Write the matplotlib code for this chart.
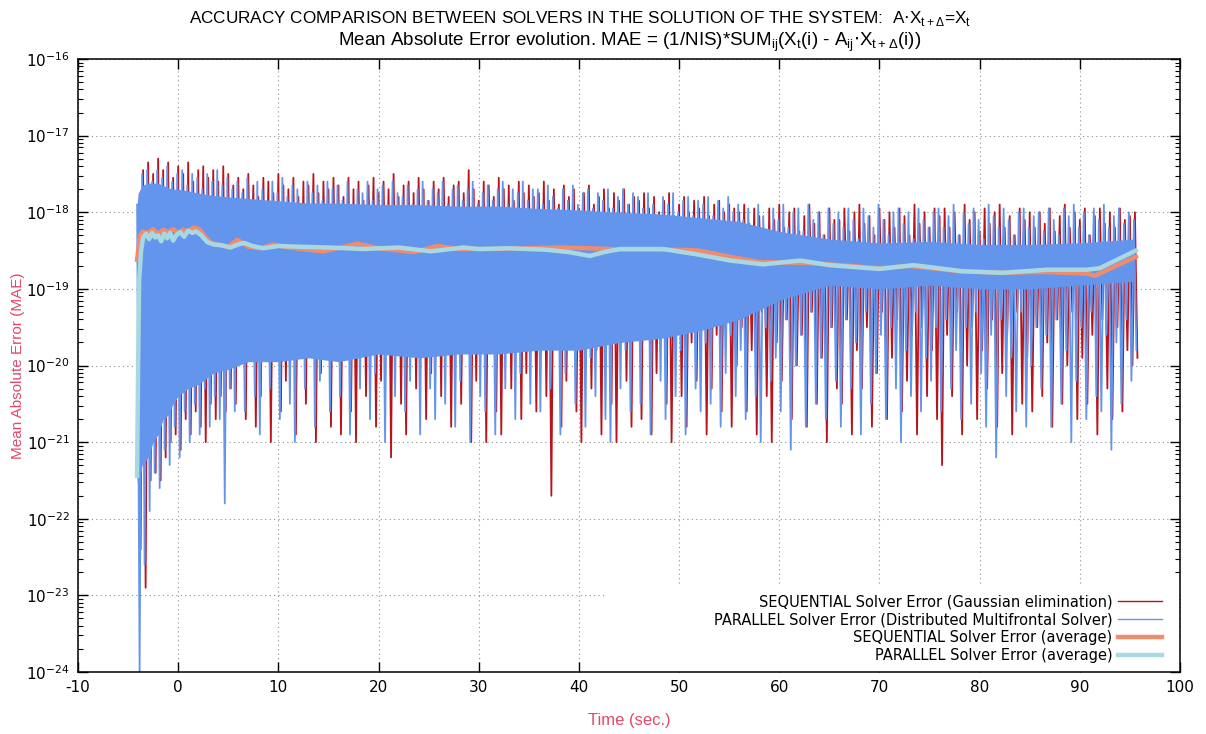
import numpy as np
import matplotlib.pyplot as plt
from matplotlib.lines import Line2D
from matplotlib.ticker import LogLocator, NullLocator, NullFormatter
from matplotlib.patches import Rectangle

plt.rcParams['axes.unicode_minus'] = False

# raw error samples, log10(MAE); peaks and troughs alternate every 0.25 s
# PARALLEL (Distributed Multifrontal Solver), peaks from t=-4.1, troughs from t=-3.85
par_hi = [
    -17.9, -17.5, -17.45, -17.6, -17.45, -17.55, -17.4, -17.6, -17.5, -17.45, -17.65, -17.5, -17.55, -17.7, -17.5, -17.6, -17.45, -17.65, -17.55, -17.7,
    -17.6, -17.75, -17.55, -17.85, -17.6, -17.7, -17.9, -17.6, -17.75, -17.55, -17.8, -17.65, -17.7, -17.9, -17.6, -17.75, -17.65, -17.85, -17.6, -17.7,
    -17.65, -17.85, -17.6, -17.9, -17.7, -17.75, -17.6, -17.85, -17.7, -17.65, -17.9, -17.6, -17.75, -17.8, -17.65, -17.9, -17.7, -17.6, -17.85, -17.7,
    -17.75, -17.6, -17.9, -17.7, -17.65, -17.85, -17.7, -17.6, -17.9, -17.75, -17.65, -17.85, -17.7, -17.6, -17.9, -17.7, -17.75, -17.6, -17.85, -17.7,
    -17.7, -17.9, -17.65, -17.8, -17.95, -17.7, -17.85, -17.65, -17.9, -17.75, -17.7, -17.95, -17.75, -17.85, -17.7, -17.95, -17.8, -17.7, -17.9, -17.75,
    -17.8, -17.95, -17.75, -17.9, -18.05, -17.8, -17.9, -17.75, -18.0, -17.85, -17.8, -18.05, -17.85, -17.9, -17.8, -18.05, -17.85, -17.95, -17.8, -18.0,
    -17.9, -18.1, -17.95, -18.2, -17.9, -18.05, -18.3, -17.95, -18.1, -17.9, -18.2, -18.0, -17.95, -18.25, -17.9, -18.1, -18.0, -18.3, -17.95, -18.15,
    -18.0, -18.2, -17.95, -18.1, -18.35, -17.95, -18.05, -18.2, -17.9, -18.1, -18.3, -18.0, -17.95, -18.15, -18.0, -18.35, -17.95, -18.1, -18.2, -18.0,
    -17.95, -18.2, -18.05, -17.9, -18.3, -18.0, -18.15, -17.95, -18.1, -18.35, -17.9, -18.05, -18.2, -17.95, -18.1, -18.3, -18.0, -17.95, -18.2, -18.05,
    -18.0, -18.25, -17.95, -18.1, -18.3, -17.95, -18.05, -17.9, -18.2, -18.0, -18.3, -17.95, -18.1, -17.9, -18.2, -18.05, -17.95, -18.15, -18.0, -18.1,
]
par_lo = [
    -24.0, -22.6, -21.9, -21.4, -21.6, -21.1, -21.3, -20.8, -21.2, -20.6, -21.0, -20.5, -20.9, -20.3, -20.8, -20.4, -20.7, -21.8, -20.3, -20.6,
    -19.5, -20.6, -19.2, -20.4, -20.9, -19.6, -20.3, -19.8, -20.7, -19.4, -20.5, -21.0, -19.7, -20.3, -19.3, -20.8, -20.2, -19.6, -20.6, -19.9,
    -20.4, -19.5, -20.9, -19.7, -20.3, -19.3, -20.7, -20.1, -19.6, -21.0, -19.8, -20.4, -19.4, -20.6, -20.2, -19.7, -20.9, -19.5, -20.3, -20.7,
    -19.6, -20.5, -19.3, -20.8, -20.2, -19.7, -21.0, -19.5, -20.4, -20.6, -19.4, -20.9, -19.8, -20.3, -19.5, -20.7, -20.1, -19.6, -20.5, -19.3,
    -20.6, -19.7, -20.3, -19.4, -20.9, -20.1, -19.6, -20.5, -19.3, -20.8, -19.9, -20.4, -19.5, -20.7, -21.0, -19.6, -20.3, -19.8, -20.6, -19.4,
    -20.5, -19.6, -20.9, -19.3, -20.2, -20.7, -19.5, -20.4, -19.8, -20.9, -19.4, -20.3, -20.6, -19.7, -20.5, -19.3, -20.8, -20.1, -19.6, -20.4,
    -19.8, -20.7, -19.3, -20.4, -21.0, -19.5, -20.2, -19.9, -20.6, -19.4, -21.1, -20.0, -19.6, -20.8, -19.3, -20.5, -19.9, -20.7, -19.5, -20.2,
    -20.8, -19.4, -20.3, -19.7, -20.9, -19.3, -20.5, -20.1, -19.6, -20.7, -19.5, -20.3, -21.0, -19.8, -20.4, -19.3, -20.6, -19.9, -20.2, -19.5,
    -20.6, -19.4, -20.3, -19.8, -20.7, -19.5, -20.5, -19.3, -20.1, -20.8, -19.6, -21.2, -19.4, -20.4, -19.9, -20.6, -19.3, -20.8, -20.0, -19.5,
    -20.3, -19.6, -20.8, -19.4, -20.5, -19.8, -21.0, -20.2, -19.5, -20.7, -19.3, -20.4, -20.6, -19.6, -21.1, -19.7, -20.5, -19.4, -20.2, -19.8,
]
# SEQUENTIAL (Gaussian elimination), peaks from t=-4.0, troughs from t=-3.75
seq_hi = [
    -18.6, -17.45, -17.35, -17.5, -17.3, -17.45, -17.35, -17.55, -17.4, -17.5, -17.35, -17.6, -17.45, -17.4, -17.55, -17.45, -17.6, -17.4, -17.5, -17.65,
    -17.55, -17.7, -17.5, -17.65, -17.8, -17.55, -17.6, -17.75, -17.5, -17.65, -17.7, -17.55, -17.8, -17.6, -17.65, -17.5, -17.75, -17.6, -17.7, -17.55,
    -17.65, -17.8, -17.55, -17.7, -17.6, -17.85, -17.65, -17.55, -17.75, -17.6, -17.7, -17.5, -17.8, -17.65, -17.6, -17.75, -17.55, -17.7, -17.85, -17.6,
    -17.7, -17.55, -17.8, -17.65, -17.6, -17.75, -17.45, -17.7, -17.85, -17.6, -17.65, -17.8, -17.55, -17.7, -17.65, -17.85, -17.6, -17.75, -17.65, -17.8,
    -17.75, -17.6, -17.85, -17.7, -17.9, -17.65, -17.8, -17.7, -17.95, -17.75, -17.65, -17.9, -17.8, -17.7, -17.95, -17.75, -17.85, -17.7, -17.9, -17.8,
    -17.85, -17.75, -17.95, -17.8, -18.0, -17.85, -17.75, -18.05, -17.9, -17.8, -18.0, -17.85, -17.95, -17.8, -18.05, -17.9, -17.85, -18.0, -17.9, -17.95,
    -18.0, -17.9, -18.15, -17.95, -18.05, -18.3, -17.95, -18.1, -17.9, -18.2, -18.0, -17.95, -18.25, -18.05, -17.9, -18.15, -18.0, -18.3, -17.95, -18.1,
    -18.1, -17.95, -18.25, -18.0, -17.9, -18.15, -18.05, -18.3, -17.95, -18.1, -18.0, -18.2, -17.95, -18.05, -18.3, -17.9, -18.15, -18.0, -18.2, -17.95,
    -18.05, -17.95, -18.2, -18.0, -18.3, -17.9, -18.1, -18.0, -18.25, -17.95, -18.15, -18.0, -17.9, -18.2, -18.05, -18.3, -17.95, -18.1, -18.0, -18.2,
    -18.0, -18.15, -17.95, -18.25, -18.05, -17.9, -18.2, -18.0, -18.1, -17.95, -18.3, -18.05, -17.95, -18.15, -18.0, -18.2, -17.95, -18.1, -18.05, -18.0,
]
seq_lo = [
    -22.4, -22.9, -21.5, -21.4, -21.5, -21.2, -21.0, -20.9, -21.1, -20.7, -20.9, -20.6, -20.8, -21.0, -20.5, -20.7, -20.4, -20.6, -20.3, -20.5,
    -19.6, -20.7, -19.3, -20.8, -20.4, -19.7, -21.0, -19.5, -20.6, -20.2, -19.4, -20.9, -19.8, -20.5, -19.3, -21.0, -20.1, -19.6, -20.8, -19.5,
    -20.9, -19.4, -20.6, -21.0, -19.7, -20.4, -19.3, -20.8, -20.2, -19.6, -21.2, -19.5, -20.5, -20.9, -19.8, -20.3, -19.4, -20.7, -20.1, -19.6,
    -20.4, -19.3, -20.8, -19.7, -20.5, -19.5, -21.0, -20.2, -19.6, -21.0, -19.4, -20.6, -20.9, -19.8, -20.3, -19.5, -20.7, -20.1, -19.3, -20.6,
    -19.7, -20.4, -21.7, -19.5, -20.8, -20.2, -19.4, -20.6, -21.0, -19.6, -20.3, -19.8, -20.9, -19.3, -20.5, -21.0, -19.7, -20.2, -20.8, -19.5,
    -20.7, -19.4, -20.9, -20.1, -19.6, -20.5, -21.0, -19.3, -20.4, -20.8, -19.7, -20.2, -19.5, -20.9, -20.3, -19.6, -20.6, -19.4, -20.8, -20.0,
    -19.5, -20.6, -19.8, -20.9, -19.3, -20.4, -21.0, -19.7, -20.2, -19.4, -20.7, -20.0, -19.6, -20.8, -19.3, -20.5, -19.9, -21.0, -19.5, -20.3,
    -20.5, -19.4, -20.9, -19.8, -20.3, -19.5, -20.8, -20.1, -19.3, -20.7, -19.9, -19.4, -20.6, -20.2, -19.6, -20.9, -19.5, -20.4, -19.8, -20.7,
    -21.3, -19.6, -20.4, -19.3, -20.9, -20.0, -19.5, -20.7, -19.8, -20.3, -19.4, -20.8, -20.1, -19.6, -20.9, -19.3, -20.5, -19.9, -20.6, -19.5,
    -20.4, -19.7, -20.8, -19.4, -20.5, -20.0, -19.3, -20.7, -19.9, -20.5, -19.6, -20.9, -19.4, -20.3, -20.7, -19.5, -20.6, -19.8, -20.0, -19.9,
]

# dense core of the parallel trace (where samples overlap into a solid band)
core_t = [-4.1, -4.0, -3.6, -3.0, -2.5, -2.0, -1.5, -1.0, -0.5, 0, 1, 2, 3.5, 5, 7, 10, 13, 16, 20, 24,
          28, 32, 36, 40, 44, 48, 52, 56, 60, 65, 70, 75, 80, 85, 90, 95.4]
core_top = [-17.9, -17.75, -17.65, -17.62, -17.62, -17.62, -17.65, -17.68, -17.7, -17.7, -17.72, -17.75, -17.78, -17.8, -17.82, -17.85, -17.88, -17.88, -17.9, -17.9,
            -17.92, -17.92, -17.95, -17.97, -18.0, -18.02, -18.07, -18.12, -18.25, -18.35, -18.4, -18.38, -18.42, -18.42, -18.4, -18.35]
core_bot = [-21.5, -21.6, -21.3, -21.2, -21.0, -20.9, -20.7, -20.65, -20.5, -20.4, -20.3, -20.25, -20.1, -20.05, -19.95, -19.95, -19.9, -19.95, -19.85, -19.9,
            -19.85, -19.85, -19.8, -19.8, -19.7, -19.65, -19.55, -19.4, -19.15, -18.95, -19.0, -18.95, -19.0, -19.0, -18.95, -18.9]

# running averages, log10(MAE)
seq_avg_t = [-4.1, -4.0, -3.8, -3.5, -3.0, -2.5, -2.0, -1.5, -1.0, -0.5, 0.0, 0.5, 1.0, 1.5, 2.1, 2.7, 3.3, 4.2, 5.0, 5.9,
             7.0, 8.2, 9.5, 11, 14.5, 17.9, 20, 23.5, 25.9, 28, 31, 35, 38, 41, 45, 50, 52, 55, 58, 62,
             65, 70, 73, 78, 82, 86.7, 90.7, 91.5, 95.6]
seq_avg = [-18.62, -18.5, -18.3, -18.25, -18.27, -18.22, -18.28, -18.23, -18.26, -18.22, -18.27, -18.23, -18.25, -18.2, -18.22, -18.32, -18.4, -18.43, -18.45, -18.36,
           -18.45, -18.47, -18.42, -18.46, -18.51, -18.41, -18.47, -18.52, -18.44, -18.48, -18.48, -18.47, -18.46, -18.47, -18.49, -18.49, -18.5, -18.58, -18.65, -18.66,
           -18.68, -18.73, -18.7, -18.77, -18.79, -18.78, -18.8, -18.83, -18.58]
par_avg_t = [-4.1, -4.0, -3.9, -3.7, -3.5, -3.2, -2.9, -2.6, -2.3, -2.0, -1.7, -1.4, -1.1, -0.8, -0.5, -0.2, 0.2, 0.6, 1.0, 1.4,
             1.8, 2.3, 2.9, 3.5, 4.3, 5.2, 6.0, 6.6, 7.4, 8.5, 10, 12, 15, 18.5, 22, 25.2, 28.5, 30, 33, 36.8,
             39, 41.1, 42.5, 44.1, 48.4, 51.8, 55.1, 58.4, 62.1, 65, 70, 73.4, 78.3, 82.3, 86.7, 90.7, 92, 95.6]
par_avg = [-21.44, -20.0, -18.9, -18.5, -18.33, -18.28, -18.35, -18.27, -18.33, -18.3, -18.38, -18.28, -18.34, -18.27, -18.37, -18.3, -18.26, -18.32, -18.24, -18.27,
           -18.25, -18.3, -18.39, -18.42, -18.43, -18.46, -18.42, -18.4, -18.44, -18.47, -18.44, -18.45, -18.46, -18.48, -18.46, -18.51, -18.46, -18.48, -18.47, -18.49,
           -18.52, -18.57, -18.52, -18.48, -18.48, -18.55, -18.63, -18.68, -18.63, -18.69, -18.74, -18.69, -18.77, -18.79, -18.75, -18.75, -18.73, -18.5]

labels = ["SEQUENTIAL Solver Error (Gaussian elimination)",
          "PARALLEL Solver Error (Distributed Multifrontal Solver)",
          "SEQUENTIAL Solver Error (average)",
          "PARALLEL Solver Error (average)"]
x_ticks = [-10, 0, 10, 20, 30, 40, 50, 60, 70, 80, 90, 100]
y_decades = [-24, -23, -22, -21, -20, -19, -18, -17, -16]

red = '#b8141c'
blue = '#6495ed'
salmon = '#f08c6e'
lblue = '#a8d8e2'
pink = '#e4486a'

dt = 0.25
par_raw = np.empty(2 * len(par_hi))
par_raw[0::2] = par_hi
par_raw[1::2] = par_lo
t_par = -4.1 + dt * np.arange(len(par_raw))
seq_raw = np.empty(2 * len(seq_hi))
seq_raw[0::2] = seq_hi
seq_raw[1::2] = seq_lo
t_seq = -4.0 + dt * np.arange(len(seq_raw))

fig = plt.figure(figsize=(12.06, 7.34), dpi=100)
ax = fig.add_axes([78 / 1206, 62 / 734, 1102 / 1206, 613 / 734])
ax.set_yscale('log')

ax.plot(t_seq, 10.0 ** seq_raw, color=red, lw=1.3, zorder=2)
ax.fill_between(core_t, 10.0 ** np.array(core_bot), 10.0 ** np.array(core_top),
                color=blue, lw=0, zorder=2.1)
ax.plot(t_par, 10.0 ** par_raw, color=blue, lw=1.3, zorder=2.2)
ax.plot(seq_avg_t, 10.0 ** np.array(seq_avg), color=salmon, lw=3.2, zorder=3)
ax.plot(par_avg_t, 10.0 ** np.array(par_avg), color=lblue, lw=3.2, zorder=3.1)

# opaque key area like gnuplot
ax.add_patch(Rectangle((42.8, 1e-24), 57.2, 10 ** -22.89 - 1e-24, facecolor='white',
                       edgecolor='none', zorder=1))

ax.set_xlim(-10, 100)
ax.set_ylim(1e-24, 1e-16)
ax.set_xticks(x_ticks)
ax.xaxis.set_minor_locator(NullLocator())
ax.set_yticks(10.0 ** np.array(y_decades))
ax.yaxis.set_minor_locator(LogLocator(base=10, subs=np.arange(2, 10), numticks=100))
ax.yaxis.set_minor_formatter(NullFormatter())
ax.tick_params(which='both', direction='in', top=True, right=True)
ax.tick_params(which='major', length=7, width=1, labelsize=11, pad=6)
ax.tick_params(which='minor', length=3.5, width=0.8)
for s in ax.spines.values():
    s.set_linewidth(1.1)
ax.set_axisbelow(True)
ax.grid(True, which='major', linestyle=(0, (1, 3)), color='#909090', lw=0.8)

ax.set_xlabel("Time (sec.)", fontsize=12, color=pink, family='Liberation Sans', labelpad=13)
ax.set_ylabel("Mean Absolute Error (MAE)", fontsize=11, color=pink, family='Liberation Sans', labelpad=1)

fig.text(0.481, 1 - 18 / 734,
         r"ACCURACY COMPARISON BETWEEN SOLVERS IN THE SOLUTION OF THE SYSTEM:  A$\cdot$X$_{\mathregular{t+\Delta}}$=X$_{\mathregular{t}}$",
         ha='center', va='center', fontsize=12.3, family='Liberation Sans')
fig.text(0.522, 1 - 42 / 734,
         r"Mean Absolute Error evolution. MAE = (1/NIS)*SUM$_{\mathregular{ij}}$(X$_{\mathregular{t}}$(i) - A$_{\mathregular{ij}}$$\cdot$X$_{\mathregular{t+\Delta}}$(i))",
         ha='center', va='center', fontsize=13.5, family='Liberation Sans')

handles = [Line2D([], [], color=red, lw=1.0), Line2D([], [], color=blue, lw=1.0),
           Line2D([], [], color=salmon, lw=3.2), Line2D([], [], color=lblue, lw=3.2)]
leg = ax.legend(handles, labels, loc='lower right', bbox_to_anchor=(0.989, 0.005),
                frameon=False, markerfirst=False, fontsize=10.5, handlelength=3.0,
                handletextpad=0.4, labelspacing=0.2, borderaxespad=0)
leg.set_zorder(5)

fig.savefig('out.png', dpi=100)
